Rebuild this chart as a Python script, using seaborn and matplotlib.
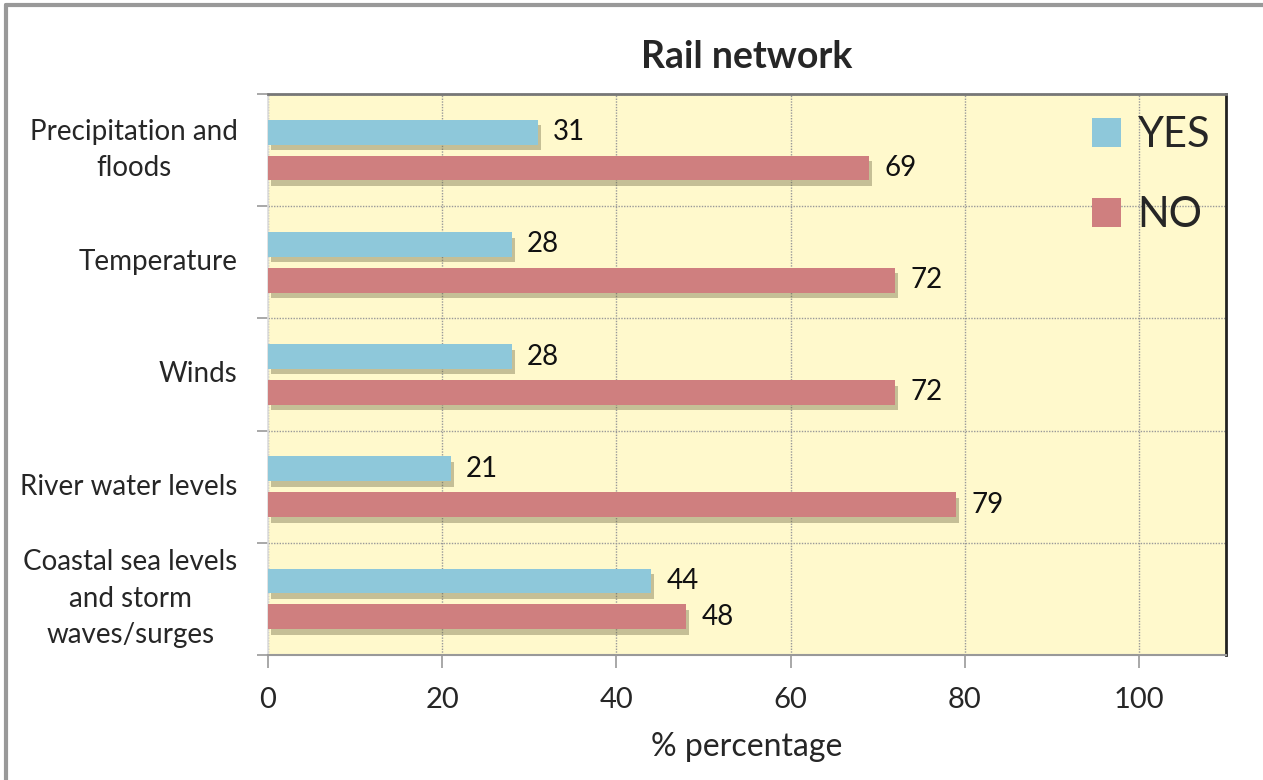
import matplotlib
matplotlib.use("Agg")
import matplotlib.pyplot as plt
import matplotlib.patheffects as pe
from matplotlib.patches import Patch
from matplotlib.lines import Line2D
from matplotlib.ticker import FixedLocator
import seaborn as sns
import pandas as pd

categories = ["Precipitation and\nfloods", "Temperature", "Winds",
              "River water levels", "Coastal sea levels\nand storm\nwaves/surges"]
yes_values = [31, 28, 28, 21, 44]
no_values = [69, 72, 72, 79, 48]
series_names = ["YES", "NO"]
x_ticks = [0, 20, 40, 60, 80, 100]

df = pd.DataFrame({
    "category": categories * 2,
    "answer": ["YES"] * len(categories) + ["NO"] * len(categories),
    "value": yes_values + no_values,
})

sns.set_style("white")
plt.rcParams["font.family"] = ["Lato", "DejaVu Sans"]

colors = {"YES": "#8EC8DA", "NO": "#CF7F7F"}

fig = plt.figure(figsize=(12.63, 7.80), dpi=100)
ax = fig.add_axes([268 / 1263, 1 - 655 / 780, (1226 - 268) / 1263, (655 - 94) / 780])
ax.set_facecolor("#FFF9CC")

sns.barplot(data=df, x="value", y="category", hue="answer", hue_order=series_names,
            palette=colors, orient="h", width=0.64, gap=0.31, ax=ax,
            legend=False, saturation=1, zorder=3)

for patch in ax.patches:
    patch.set_path_effects([pe.SimplePatchShadow(offset=(2, -4), shadow_rgbFace="#6e6a45", alpha=0.4),
                            pe.Normal()])
    patch.set_edgecolor("none")

for cont in ax.containers:
    ax.bar_label(cont, fmt="%d", padding=11, fontsize=20, color="#111111")

ax.set_xlim(0, 110)
ax.set_xticks(x_ticks)
ax.tick_params(axis="x", which="major", length=9, width=1.2, color="#999999",
               direction="out", labelsize=21, pad=14, bottom=True)
ax.tick_params(axis="y", which="major", length=0, labelsize=20, pad=22)
ax.yaxis.set_minor_locator(FixedLocator([i - 0.5 for i in range(len(categories) + 1)]))
ax.tick_params(axis="y", which="minor", length=8, width=1.2, color="#999999",
               direction="out", left=True)
for lbl in ax.get_yticklabels():
    lbl.set_multialignment("center")
    lbl.set_linespacing(1.5)
    lbl.set_verticalalignment("center")

ax.grid(axis="x", which="major", linestyle=(0, (1, 1)), color="#999999", linewidth=1, zorder=0)
ax.grid(axis="y", which="minor", linestyle=(0, (1, 1)), color="#999999", linewidth=1, zorder=0)
ax.grid(axis="y", which="major", visible=False)
ax.set_axisbelow(True)

ax.set_ylabel("")
ax.set_xlabel("% percentage", fontsize=23, labelpad=14)
ax.set_title("Rail network", fontsize=27, fontweight="bold", pad=19)

for side, col, lw in [("top", "#777777", 2), ("right", "#222222", 2),
                      ("left", "#dddddd", 1.2), ("bottom", "#999999", 1.5)]:
    ax.spines[side].set_visible(True)
    ax.spines[side].set_color(col)
    ax.spines[side].set_linewidth(lw)

handles = [Patch(facecolor=colors[s], edgecolor="none") for s in series_names]
ax.legend(handles, series_names, loc="upper right", bbox_to_anchor=(1.014, 1.0125),
          frameon=False, fontsize=30, handlelength=0.7, handleheight=0.7,
          handletextpad=0.4, labelspacing=1.0, borderaxespad=0.3)

fig.add_artist(Line2D([6 / 1263, 6 / 1263], [0, 1 - 5 / 780], color="#999999", linewidth=3,
                      transform=fig.transFigure))
fig.add_artist(Line2D([6 / 1263, 1], [1 - 5 / 780, 1 - 5 / 780], color="#999999", linewidth=3,
                      transform=fig.transFigure))

fig.savefig("out.png", dpi=100)
